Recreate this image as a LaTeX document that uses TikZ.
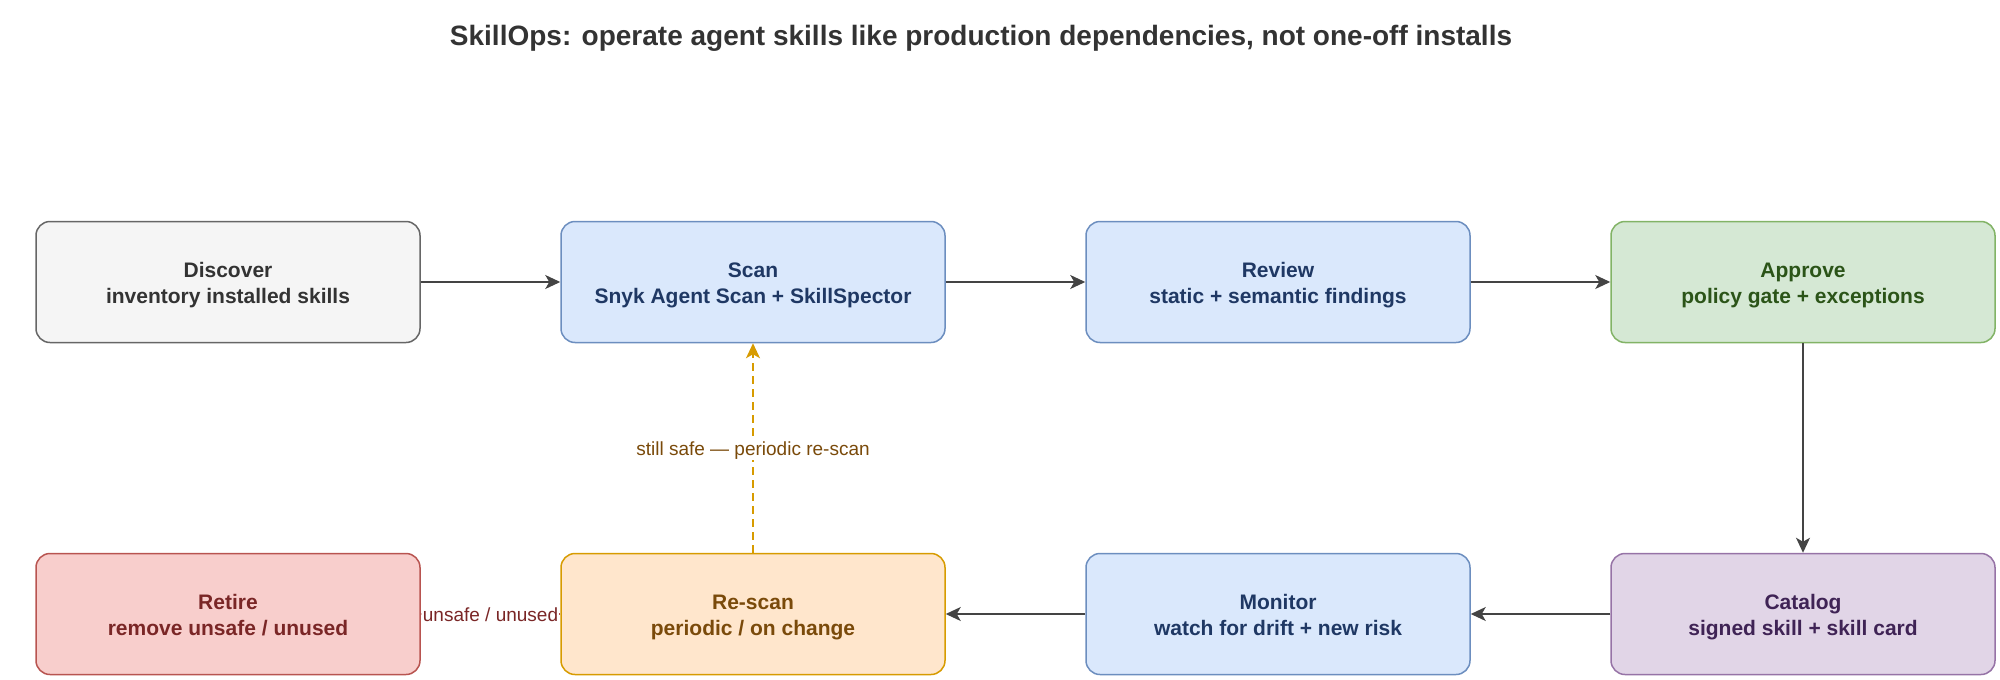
\documentclass[tikz,border=0pt]{standalone}
\usepackage{fontspec}
\setmainfont{Liberation Sans}
\usetikzlibrary{arrows.meta}

\definecolor{greyfill}{HTML}{F5F5F5}
\definecolor{greyline}{HTML}{666666}
\definecolor{greytext}{HTML}{333333}
\definecolor{bluefill}{HTML}{DAE8FC}
\definecolor{blueline}{HTML}{6C8EBF}
\definecolor{bluetext}{HTML}{1F3864}
\definecolor{greenfill}{HTML}{D5E8D4}
\definecolor{greenline}{HTML}{82B366}
\definecolor{greentext}{HTML}{2B5418}
\definecolor{purplefill}{HTML}{E1D5E7}
\definecolor{purpleline}{HTML}{9673A6}
\definecolor{purpletext}{HTML}{3F2355}
\definecolor{orangefill}{HTML}{FFE6CC}
\definecolor{orangeline}{HTML}{D79B00}
\definecolor{orangetext}{HTML}{7A4A0A}
\definecolor{redfill}{HTML}{F8CECC}
\definecolor{redline}{HTML}{B85450}
\definecolor{redtext}{HTML}{7A2626}
\definecolor{arrowgrey}{HTML}{444444}

% two text lines of a stage box, with even line boxes
\newcommand{\stagelines}[2]{\rule[-6pt]{0pt}{28pt}#1\\\rule[-6pt]{0pt}{20pt}#2}

\begin{document}
\begin{tikzpicture}[x=1pt, y=-1pt, line width=1.5pt,
    stage/.style={draw, rounded corners=14pt, minimum width=384pt, minimum height=121pt,
      align=center, inner sep=0pt, font=\fontsize{21}{26}\selectfont\bfseries},
    flow/.style={draw=arrowgrey, -{Stealth[length=15pt, width=14pt, inset=4pt]}},
    tag/.style={fill=white, inner sep=1pt, text height=18pt, text depth=3.5pt,
      font=\fontsize{19}{23}\selectfont}]

    % fix the page size
    \useasboundingbox (0, 0) rectangle (2000, 680);

    % draw title
    \node[font=\fontsize{28}{32}\selectfont\bfseries, text=greytext] (title) at (981, 38)
      {SkillOps: operate agent skills like production dependencies, not one-off installs};

    % draw top row
    \node[stage, fill=greyfill, draw=greyline, text=greytext] (discover) at (228, 282)
      {\stagelines{Discover}{inventory installed skills}};
    \node[stage, fill=bluefill, draw=blueline, text=bluetext] (scan) at (753, 282)
      {\stagelines{Scan}{Snyk Agent Scan + SkillSpector}};
    \node[stage, fill=bluefill, draw=blueline, text=bluetext] (review) at (1278, 282)
      {\stagelines{Review}{static + semantic findings}};
    \node[stage, fill=greenfill, draw=greenline, text=greentext] (approve) at (1803, 282)
      {\stagelines{Approve}{policy gate + exceptions}};

    % draw bottom row
    \node[stage, fill=redfill, draw=redline, text=redtext] (retire) at (228, 614)
      {\stagelines{Retire}{remove unsafe / unused}};
    \node[stage, fill=orangefill, draw=orangeline, text=orangetext] (rescan) at (753, 614)
      {\stagelines{Re-scan}{periodic / on change}};
    \node[stage, fill=bluefill, draw=blueline, text=bluetext] (monitor) at (1278, 614)
      {\stagelines{Monitor}{watch for drift + new risk}};
    \node[stage, fill=purplefill, draw=purpleline, text=purpletext] (catalog) at (1803, 614)
      {\stagelines{Catalog}{signed skill + skill card}};

    % draw main flow
    \draw[flow] (discover) -- (scan);
    \draw[flow] (scan) -- (review);
    \draw[flow] (review) -- (approve);
    \draw[flow] (approve) -- (catalog);
    \draw[flow] (catalog) -- (monitor);
    \draw[flow] (monitor) -- (rescan);

    % draw exits from re-scan
    \draw[flow, draw=redline] (rescan) -- node[tag, text=redtext] {unsafe / unused} (retire);
    \draw[flow, draw=orangeline, dash pattern=on 8pt off 5pt] (rescan) --
      node[tag, text=orangetext] {still safe — periodic re-scan} (scan);

\end{tikzpicture}
\end{document}
